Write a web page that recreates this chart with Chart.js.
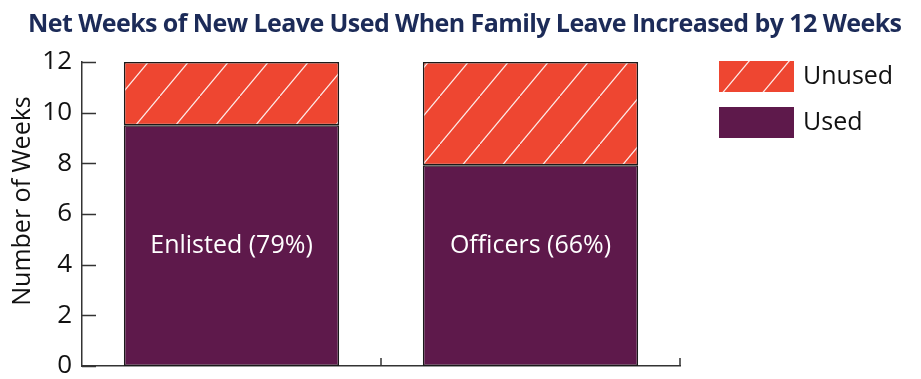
<!DOCTYPE html>
<html>
<head>
<meta charset="utf-8">
<script src="https://cdn.jsdelivr.net/npm/chart.js@4/dist/chart.umd.min.js"></script>
<style>
  html, body { margin: 0; padding: 0; background: #fff; }
  #wrap { width: 921px; height: 379px; position: relative; }
</style>
</head>
<body>
<div id="wrap"><canvas id="chart"></canvas></div>
<script>
// データ
const groups = ["Enlisted", "Officers"]
const shares = [79, 66]            // 使用率 (%)
const usedWeeks = [9.5, 7.92]
const unusedWeeks = [2.5, 4.08]
const yTicks = [0, 2, 4, 6, 8, 10, 12]

const TITLE = "Net Weeks of New Leave Used When Family Leave Increased by 12 Weeks"
const Y_TITLE = "Number of Weeks"

const USED_COLOR = "#5e194b"
const UNUSED_COLOR = "#ee4631"
const AXIS_COLOR = "#333"
const FONT = "'Open Sans', 'Noto Sans', sans-serif"

// 斜線ハッチのパターン
function makeHatch() {
  const tile = document.createElement("canvas")
  tile.width = 40
  tile.height = 48
  const c = tile.getContext("2d")
  c.fillStyle = UNUSED_COLOR
  c.fillRect(0, 0, 40, 48)
  c.strokeStyle = "rgba(255,255,255,0.9)"
  c.lineWidth = 1.2
  c.beginPath()
  c.moveTo(-2, 50.4); c.lineTo(42, -2.4)
  c.stroke()
  return document.getElementById("chart").getContext("2d").createPattern(tile, "repeat")
}
const hatch = makeHatch()

// タイトルと縦軸タイトル
const titles = {
  id: "titles",
  afterDraw(chart) {
    const { ctx } = chart
    ctx.save()
    ctx.font = "bold 25px " + FONT
    ctx.fillStyle = "#1c2b58"
    ctx.textBaseline = "alphabetic"
    ctx.textAlign = "left"
    const w = ctx.measureText(TITLE).width
    if ("letterSpacing" in ctx) {
      ctx.letterSpacing = ((874 - w) / (TITLE.length - 1)) + "px"
    }
    ctx.fillText(TITLE, 28, 32)
    ctx.letterSpacing = "0px"

    ctx.translate(23, 201)
    ctx.rotate(-Math.PI / 2)
    ctx.font = "25px " + FONT
    ctx.fillStyle = "#111"
    ctx.textAlign = "center"
    ctx.textBaseline = "middle"
    ctx.fillText(Y_TITLE, 0, 0)
    ctx.restore()
  }
}

// 軸の内向き目盛り
const innerTicks = {
  id: "innerTicks",
  afterDraw(chart) {
    const { ctx, scales: { x, y } } = chart
    ctx.save()
    ctx.strokeStyle = AXIS_COLOR
    ctx.lineWidth = 1.5
    ctx.beginPath()
    yTicks.forEach(v => {
      const py = Math.round(y.getPixelForValue(v)) + 0.5
      ctx.moveTo(x.left, py)
      ctx.lineTo(x.left + 14, py)
    })
    // カテゴリ境界の目盛り
    const step = x.getPixelForValue(1) - x.getPixelForValue(0)
    groups.forEach((g, i) => {
      const bx = x.getPixelForValue(i) + step / 2
      ctx.moveTo(bx, y.bottom)
      ctx.lineTo(bx, y.bottom - 8)
    })
    ctx.stroke()
    ctx.restore()
  }
}

// バー内のラベル
const barLabels = {
  id: "barLabels",
  afterDatasetsDraw(chart) {
    const { ctx, scales: { x, y } } = chart
    const labelY = y.getPixelForValue(Math.max(...usedWeeks) / 2)
    ctx.save()
    ctx.fillStyle = "#fff"
    ctx.font = "25px " + FONT
    ctx.textAlign = "center"
    ctx.textBaseline = "middle"
    groups.forEach((g, i) => {
      ctx.fillText(`${g} (${shares[i]}%)`, x.getPixelForValue(i), labelY)
    })
    ctx.restore()
  }
}

// 凡例 (右側)
const sideLegend = {
  id: "sideLegend",
  afterDraw(chart) {
    const { ctx } = chart
    const items = [
      { label: "Unused", fill: hatch },
      { label: "Used", fill: USED_COLOR }
    ]
    ctx.save()
    ctx.font = "25px " + FONT
    ctx.textBaseline = "middle"
    items.forEach((it, i) => {
      const top = 61 + i * 46
      ctx.fillStyle = it.fill
      ctx.fillRect(719, top, 75, 31)
      ctx.fillStyle = "#111"
      ctx.fillText(it.label, 803, top + 16)
    })
    ctx.restore()
  }
}

new Chart(document.getElementById("chart"), {
  type: "bar",
  data: {
    labels: groups,
    datasets: [
      {
        label: "Used",
        data: usedWeeks,
        backgroundColor: USED_COLOR,
        borderColor: "#1a1a1a",
        borderWidth: 1.5,
        borderSkipped: false
      },
      {
        label: "Unused",
        data: unusedWeeks,
        backgroundColor: hatch,
        borderColor: "#1a1a1a",
        borderWidth: 1.5,
        borderSkipped: false
      }
    ]
  },
  options: {
    responsive: true,
    maintainAspectRatio: false,
    animation: false,
    categoryPercentage: 1,
    barPercentage: 0.72,
    layout: { padding: { left: 0, right: 241, top: 62, bottom: 13 } },
    plugins: {
      legend: { display: false },
      tooltip: { enabled: false },
      title: { display: false }
    },
    scales: {
      x: {
        stacked: true,
        grid: { display: false, drawTicks: false },
        ticks: { display: false },
        border: { display: true, color: AXIS_COLOR, width: 1.5 },
        afterFit(scale) {
          scale.height = 0
          scale.paddingLeft = 0
          scale.paddingRight = 0
        }
      },
      y: {
        stacked: true,
        min: 0,
        max: 12,
        afterBuildTicks(scale) { scale.ticks = yTicks.map(v => ({ value: v })) },
        grid: { display: false, drawTicks: false },
        border: { display: true, color: AXIS_COLOR, width: 1.5 },
        ticks: {
          color: "#111",
          padding: 10,
          font: { family: FONT, size: 26, lineHeight: 1 }
        },
        afterFit(scale) {
          scale.width = 82
          scale.paddingTop = 0
          scale.paddingBottom = 0
        }
      }
    }
  },
  plugins: [titles, innerTicks, barLabels, sideLegend]
})
</script>
</body>
</html>
